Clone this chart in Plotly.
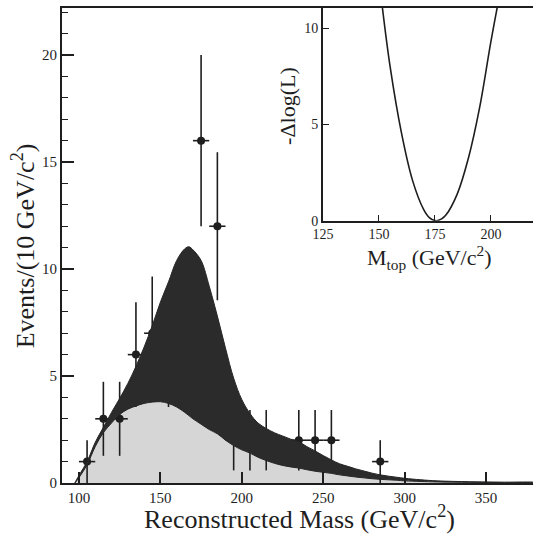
import plotly.graph_objects as go

# ---- data ----
bin_centers = [105, 115, 125, 135, 145, 155, 165, 175, 185, 195, 205, 215, 235, 245, 255, 285]
counts      = [1,   3,   3,   6,   7,   6,   8,   16,  12,  2,   2,   2,   2,   2,   2,   1]
count_err   = [1.0, 1.73, 1.73, 2.45, 2.65, 2.45, 2.83, 4.0, 3.46, 1.41, 1.41, 1.41, 1.41, 1.41, 1.41, 1.0]
bin_half    = [5] * len(bin_centers)

mass_grid = [97.5, 100, 105, 110, 115, 120, 125, 130, 135, 140,
             145, 150, 155, 160, 165, 167.5, 170, 175, 180, 185,
             190, 195, 200, 205, 210, 215, 220, 225, 230, 235,
             240, 245, 250, 255, 260, 265, 270, 275, 280, 285,
             290, 295, 300, 310, 320, 340, 360, 380]
total_fit = [0, 0.35, 1.0, 1.9, 2.6, 3.3, 3.95, 4.65, 5.45, 6.35,
             7.35, 8.45, 9.4, 10.4, 10.95, 11.04, 10.9, 10.4, 9.2, 7.8,
             6.3, 4.9, 3.9, 3.25, 2.8, 2.55, 2.35, 2.2, 2.05, 1.93,
             1.7, 1.5, 1.28, 1.08, 0.9, 0.78, 0.66, 0.56, 0.46, 0.38,
             0.32, 0.27, 0.22, 0.15, 0.1, 0.06, 0.04, 0.03]
background = [0, 0.25, 0.85, 1.7, 2.35, 2.8, 3.2, 3.45, 3.6, 3.72,
              3.78, 3.8, 3.72, 3.55, 3.3, 3.15, 3.0, 2.75, 2.5, 2.3,
              2.0, 1.75, 1.55, 1.4, 1.2, 1.05, 0.92, 0.82, 0.75, 0.7,
              0.62, 0.55, 0.5, 0.45, 0.38, 0.33, 0.28, 0.24, 0.2, 0.17,
              0.15, 0.13, 0.1, 0.07, 0.05, 0.03, 0.02, 0.02]

mtop  = [151.0, 155, 160, 165, 170, 172.5, 175.5, 178, 180, 185, 190, 195, 200, 204.0]
dlogl = [11.6, 8.0, 4.6, 2.1, 0.58, 0.17, 0.0, 0.1, 0.31, 1.4, 3.27, 5.9, 9.3, 11.8]

main_xticks = [100, 150, 200, 250, 300, 350]
main_yticks = [0, 5, 10, 15, 20]
inset_xticks = [125, 150, 175, 200]
inset_yticks = [0, 5, 10]

FONT = "Liberation Serif"
INK = "#1e1e1e"

fig = go.Figure()

# light background region
fig.add_trace(go.Scatter(x=mass_grid, y=background, mode="lines", line=dict(color="#c4c4c4", width=0.5, shape="spline"),
                         fill="tozeroy", fillcolor="#d6d6d6", hoverinfo="skip", showlegend=False))
# data points (under the dark signal band, as in the original)
fig.add_trace(go.Scatter(x=bin_centers, y=counts, mode="markers",
                         marker=dict(color=INK, size=8),
                         error_y=dict(type="data", array=count_err, color=INK, thickness=1.6, width=0),
                         error_x=dict(type="data", array=bin_half, color=INK, thickness=1.6, width=0),
                         showlegend=False))
# dark band between background and total fit
band_x = mass_grid + mass_grid[::-1]
band_y = total_fit + background[::-1]
fig.add_trace(go.Scatter(x=band_x, y=band_y, mode="lines", line=dict(color="#262626", width=1, shape="spline"),
                         fill="toself", fillcolor="#2b2b2b", hoverinfo="skip", showlegend=False))

fig.add_trace(go.Scatter(x=mtop, y=dlogl, mode="lines", xaxis="x2", yaxis="y2",
                         line=dict(color=INK, width=1.6, shape="spline"), showlegend=False))

fig.update_layout(
    width=533, height=535,
    margin=dict(l=62, r=0, t=8, b=52),
    paper_bgcolor="white", plot_bgcolor="white",
    font=dict(family=FONT, color=INK),
    xaxis=dict(range=[89.6, 378.8], domain=[0, 1], tickvals=main_xticks, ticks="inside", ticklen=11,
               tickwidth=1.5, tickcolor=INK, showline=True, linecolor=INK, linewidth=2, mirror=True,
               showgrid=False, zeroline=False, tickfont=dict(size=15, family=FONT)),
    yaxis=dict(range=[0, 22.2], domain=[0, 1], tickvals=main_yticks, ticks="inside", ticklen=12,
               tickwidth=1.5, tickcolor=INK, showline=True, linecolor=INK, linewidth=2, mirror=False,
               showgrid=False, zeroline=False, tickfont=dict(size=15, family=FONT),
               minor=dict(dtick=1, ticks="inside", ticklen=6, tickwidth=1.2, tickcolor=INK)),
    xaxis2=dict(range=[125, 218.8], domain=[0.554, 1], anchor="y2", tickvals=inset_xticks, ticks="inside",
                ticklen=6, tickwidth=1.3, tickcolor=INK, showline=True, linecolor=INK, linewidth=1.6,
                showgrid=False, zeroline=False, tickfont=dict(size=14, family=FONT)),
    yaxis2=dict(range=[0, 11.05], domain=[0.552, 1], anchor="x2", tickvals=inset_yticks, ticks="inside",
                ticklen=6, tickwidth=1.3, tickcolor=INK, showline=True, linecolor=INK, linewidth=1.6,
                showgrid=False, zeroline=False, tickfont=dict(size=14, family=FONT)),
    annotations=[
        dict(text="Reconstructed Mass (GeV/c<sup>2</sup>)", xref="paper", yref="paper", x=0.505, y=-0.072,
             xanchor="center", yanchor="middle", showarrow=False, font=dict(size=26, family=FONT, color=INK)),
        dict(text="Events/(10 GeV/c<sup>2</sup>)", xref="paper", yref="paper", x=-0.081, y=0.5,
             xanchor="center", yanchor="middle", textangle=-90, showarrow=False,
             font=dict(size=26, family=FONT, color=INK)),
        dict(text="M<sub>top</sub> (GeV/c<sup>2</sup>)", xref="paper", yref="paper", x=0.781, y=0.474,
             xanchor="center", yanchor="middle", showarrow=False, font=dict(size=22, family=FONT, color=INK)),
        dict(text="-\u0394log(L)", xref="paper", yref="paper", x=0.48, y=0.794,
             xanchor="center", yanchor="middle", textangle=-90, showarrow=False,
             font=dict(size=22, family=FONT, color=INK)),
    ],
)

fig.write_html("out.html")
